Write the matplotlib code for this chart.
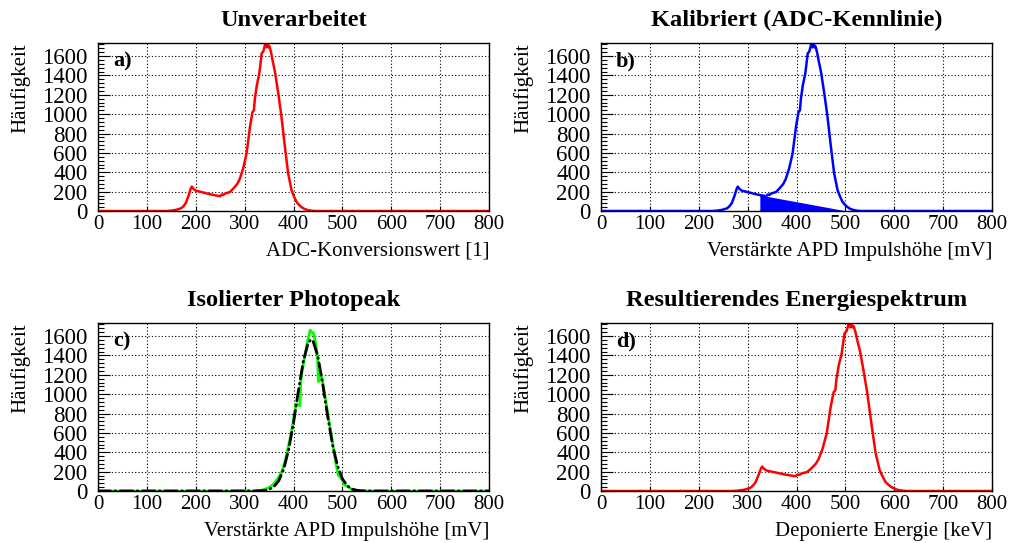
import matplotlib
matplotlib.use("Agg")
import matplotlib.pyplot as plt
from matplotlib.ticker import MultipleLocator
import numpy as np

plt.rcParams["font.family"] = ["Liberation Serif", "DejaVu Serif"]

# Raw pulse-height spectrum (ADC channel -> counts)
adc_channel = [0, 140, 150, 160, 170, 175, 180, 185, 190, 192, 195, 200, 210, 220,
               230, 240, 250, 253, 256, 260, 270, 277, 285, 290, 297, 304, 311, 316,
               319, 321, 325, 330, 335, 338, 341, 343, 345, 347, 349, 351, 354, 357,
               362, 365, 369, 375, 382, 389, 396, 401, 406, 411, 416, 422, 430, 437,
               444, 460, 800]
counts = [0, 0, 4, 12, 28, 50, 85, 155, 235, 252, 230, 210, 198, 185,
          172, 162, 152, 170, 165, 180, 196, 232, 280, 330, 440, 595, 870, 1020,
          1040, 1160, 1300, 1420, 1630, 1645, 1700, 1760, 1690, 1740, 1690, 1700, 1640, 1560,
          1440, 1340, 1210, 990, 680, 390, 215, 150, 95, 65, 42, 22, 8, 3,
          0, 0, 0]

# ADC characteristic (channel -> amplified APD pulse height in mV)
kennlinie_gain = 1.0
kennlinie_offset_mv = 88.0
# Energy calibration (mV -> keV)
energy_per_mv = 1.178

# Linear Compton background under the photopeak
background_mv = [325, 503]
background_counts = [165, 0]

# Background-subtracted photopeak
photopeak_mv = [0, 320, 335, 345, 352, 360, 368, 376, 383, 389, 395, 400, 405, 410,
                413, 415, 418, 423, 428, 434, 438, 441, 445, 449, 451, 453, 456, 458,
                462, 468, 473, 478, 483, 488, 492, 496, 500, 505, 512, 520, 530, 545, 800]
photopeak_counts = [0, 0, 8, 25, 42, 75, 130, 200, 310, 450, 590, 730, 900, 890,
                    880, 1140, 1250, 1390, 1530, 1660, 1640, 1630, 1540, 1390, 1130, 1150, 1210, 1180,
                    1050, 870, 710, 560, 400, 250, 160, 145, 110, 60, 40, 15, 5, 0, 0]

# Gaussian fit of the photopeak
fit_mv = [0, 300, 320, 340, 350, 360, 370, 380, 390, 400, 410, 420, 430, 436, 440,
          450, 460, 470, 480, 490, 500, 510, 520, 530, 540, 560, 800]
fit_counts = [0, 0, 0, 5, 17, 45, 107, 227, 426, 705, 1033, 1337, 1531, 1565, 1550,
              1387, 1098, 768, 475, 260, 126, 54, 20, 7, 2, 0, 0]

X_MAX = 800
Y_MAX = 1735

adc = np.array(adc_channel, dtype=float)
cnt = np.array(counts, dtype=float)
pulse_mv = adc * kennlinie_gain + kennlinie_offset_mv
energy_kev = pulse_mv * energy_per_mv

# empty bins below the calibrated range start at the left edge of the axis
pulse_mv_full = np.concatenate(([0.0], pulse_mv))
energy_kev_full = np.concatenate(([0.0], energy_kev))
cnt_full = np.concatenate(([0.0], cnt))

W, H = 1009, 543
fig = plt.figure(figsize=(W / 100, H / 100), dpi=100)


def frame(left, top, right, bottom):
    return fig.add_axes([left / W, 1 - bottom / H, (right - left) / W, (bottom - top) / H])


def style(ax, title, xlabel, tag):
    ax.set_xlim(0, X_MAX)
    ax.set_ylim(0, Y_MAX)
    ax.xaxis.set_major_locator(MultipleLocator(100))
    ax.yaxis.set_major_locator(MultipleLocator(200))
    ax.yaxis.set_minor_locator(MultipleLocator(40))
    ax.tick_params(axis="both", which="both", direction="in",
                   top=False, right=False, width=0.8)
    ax.tick_params(axis="x", which="major", length=3.6, pad=3, labelsize=15)
    ax.tick_params(axis="y", which="major", length=8.4, pad=7.5, labelsize=16.5)
    ax.tick_params(axis="y", which="minor", length=4.2)
    ax.set_axisbelow(True)
    ax.grid(True, which="major", linestyle=(0, (1, 2)), color="black", lw=0.8)
    for s in ax.spines.values():
        s.set_linewidth(1.0)
    ax.set_title(title, fontsize=17.6, fontweight="bold", pad=12)
    ax.text(1.0, -0.266, xlabel, transform=ax.transAxes, ha="right", va="baseline",
            fontsize=15)
    ax.text(-0.1995, 1.0, "Häufigkeit", rotation=90, ha="center", va="top",
            transform=ax.transAxes, fontsize=15)
    ax.text(0.038, 0.887, tag, fontweight="bold", fontsize=16, va="center", ha="left",
            transform=ax.transAxes)


ax_a = frame(98, 43, 489, 211)
ax_b = frame(601, 43, 992, 211)
ax_c = frame(98, 323, 489, 491)
ax_d = frame(601, 323, 992, 491)

# a) raw ADC spectrum
ax_a.plot(adc, cnt, color="#ff0000", lw=1.8)
style(ax_a, "Unverarbeitet", "ADC-Konversionswert [1]", "a)")

# b) calibrated spectrum with linear background
ax_b.fill_between(background_mv, background_counts, 0, color="#0000ff", lw=0)
ax_b.plot(pulse_mv_full, cnt_full, color="#0000ff", lw=1.8)
style(ax_b, "Kalibriert (ADC-Kennlinie)", "Verstärkte APD Impulshöhe [mV]", "b)")

# c) isolated photopeak and Gaussian fit
ax_c.plot(photopeak_mv, photopeak_counts, color="#00ff00", lw=2.0)
ax_c.plot(fit_mv, fit_counts, color="black", lw=2.0,
          linestyle=(0, (4.5, 1.6, 0.3, 1.6)), dash_capstyle="round")
style(ax_c, "Isolierter Photopeak", "Verstärkte APD Impulshöhe [mV]", "c)")

# d) energy spectrum
ax_d.plot(energy_kev_full, cnt_full, color="#ff0000", lw=1.8)
style(ax_d, "Resultierendes Energiespektrum", "Deponierte Energie [keV]", "d)")

fig.savefig("out.png", dpi=100)
